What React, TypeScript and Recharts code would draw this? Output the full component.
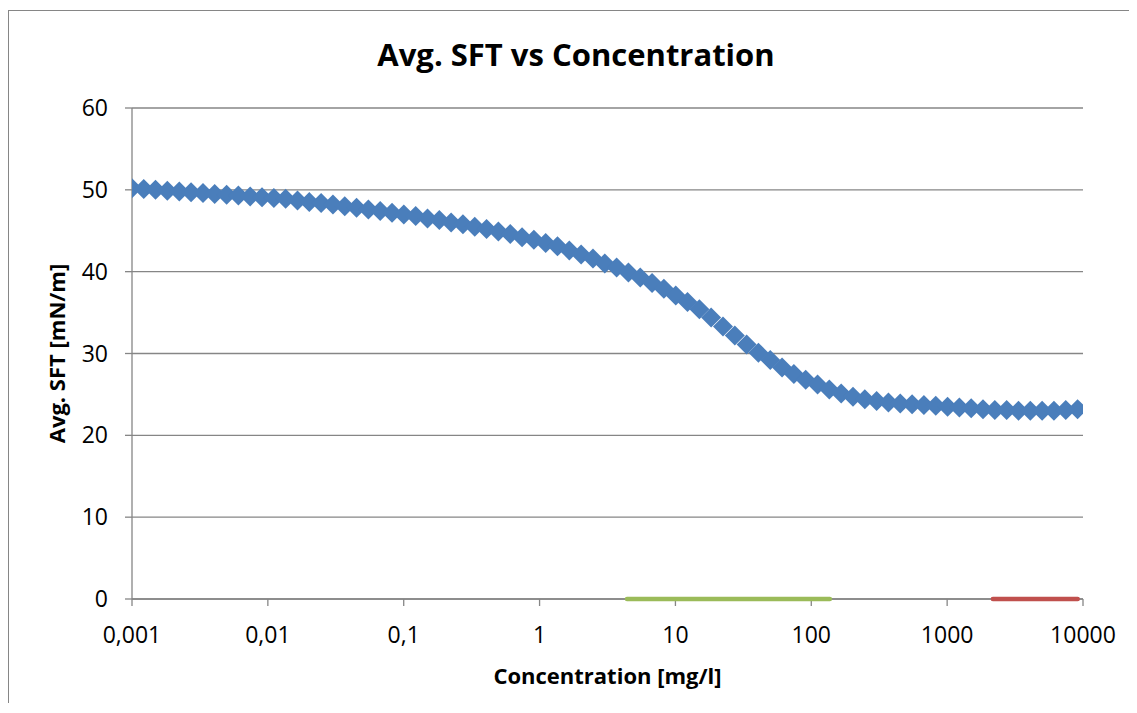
import { ScatterChart, Scatter, XAxis, YAxis, CartesianGrid } from 'recharts'

const concentration = [
  0.001, 0.00122, 0.00149, 0.00182, 0.00223, 0.00272, 0.00333, 0.00406, 0.00497, 0.00607,
  0.00741, 0.00906, 0.01107, 0.01352, 0.01652, 0.02018, 0.02466, 0.03013, 0.03681, 0.04498,
  0.05495, 0.06714, 0.08204, 0.1002, 0.1225, 0.1496, 0.1828, 0.2234, 0.2729, 0.3334,
  0.4074, 0.4977, 0.6081, 0.743, 0.9078, 1.109, 1.355, 1.656, 2.023, 2.472,
  3.02, 3.69, 4.508, 5.508, 6.73, 8.222, 10.05, 12.27, 15.0, 18.32,
  22.39, 27.35, 33.42, 40.83, 49.89, 60.95, 74.47, 90.99, 111.2, 135.8,
  166.0, 202.8, 247.7, 302.7, 369.8, 451.9, 552.1, 674.5, 824.1, 1007,
  1230, 1503, 1837, 2244, 2742, 3350, 4093, 5000, 6109, 7464,
  9120,
]
const avgSft = [
  50.2, 50.1, 50.0, 49.9, 49.8, 49.7, 49.6, 49.5, 49.4, 49.3,
  49.2, 49.1, 49.0, 48.9, 48.7, 48.5, 48.4, 48.2, 48.0, 47.8,
  47.6, 47.4, 47.2, 47.0, 46.8, 46.5, 46.3, 46.0, 45.8, 45.5,
  45.2, 44.9, 44.6, 44.2, 43.9, 43.5, 43.1, 42.6, 42.1, 41.6,
  41.0, 40.5, 39.9, 39.3, 38.6, 37.9, 37.1, 36.3, 35.4, 34.4,
  33.3, 32.2, 31.1, 30.1, 29.2, 28.3, 27.5, 26.8, 26.2, 25.6,
  25.1, 24.7, 24.4, 24.2, 24.0, 23.9, 23.8, 23.7, 23.6, 23.5,
  23.4, 23.3, 23.2, 23.1, 23.1, 23.0, 23.0, 23.0, 23.0, 23.1,
  23.2,
]
const greenRange = [4.4, 137]
const redRange = [2170, 9140]

const xTicks = [0.001, 0.01, 0.1, 1, 10, 100, 1000, 10000]
const yTicks = [0, 10, 20, 30, 40, 50, 60]

const sftPoints = concentration.map((x, i) => ({ x, y: avgSft[i] }))
const greenPoints = greenRange.map(x => ({ x, y: 0 }))
const redPoints = redRange.map(x => ({ x, y: 0 }))

const FONT = '"Open Sans", sans-serif'
const GREY = '#868686'

const Diamond = (props: any) => {
  const { cx, cy } = props
  const r = 10
  return <path d={`M${cx},${cy - r}L${cx + r},${cy}L${cx},${cy + r}L${cx - r},${cy}Z`} fill="#4A7EBB" />
}

const Nothing = () => <g />

export default function App() {
  return (
    <div style={{ position: 'relative', width: 1129, height: 695, overflow: 'hidden', fontFamily: FONT }}>
      <div style={{ position: 'absolute', top: 2, left: 0, width: 1129, height: 1, background: GREY }} />
      <div style={{ position: 'absolute', top: 2, left: 0, width: 1, height: 695, background: GREY }} />
      <div style={{ position: 'absolute', top: 25, left: 0, width: 1136, textAlign: 'center', fontSize: 31, fontWeight: 700, color: '#000' }}>
        Avg. SFT vs Concentration
      </div>
      <div style={{ position: 'absolute', top: 0, left: 0 }}>
        <ScatterChart width={1129} height={697} margin={{ top: 100, right: 54, bottom: 0, left: 24 }}>
          <CartesianGrid horizontal vertical={false} stroke={GREY} strokeWidth={1.3} />
          <XAxis
            type="number"
            dataKey="x"
            scale="log"
            domain={[0.001, 10000]}
            allowDataOverflow
            ticks={xTicks}
            interval={0}
            height={106}
            tickSize={7}
            tickMargin={21}
            stroke={GREY}
            strokeWidth={1.3}
            tick={{ fontFamily: FONT, fontSize: 23, fill: '#000' }}
            tickFormatter={(v: number) => String(v).replace('.', ',')}
            label={({ viewBox }: any) => (
              <text x={viewBox.x + viewBox.width / 2} y={viewBox.y + 85} textAnchor="middle"
                fontFamily={FONT} fontSize={22} fontWeight={700} fill="#000">
                Concentration [mg/l]
              </text>
            )}
          />
          <YAxis
            type="number"
            dataKey="y"
            domain={[0, 60]}
            ticks={yTicks}
            interval={0}
            width={100}
            tickSize={7}
            tickMargin={17}
            stroke={GREY}
            strokeWidth={1.3}
            tick={{ fontFamily: FONT, fontSize: 23, fill: '#000' }}
            label={({ viewBox }: any) => {
              const cx = viewBox.x + 25
              const cy = viewBox.y + viewBox.height / 2
              return (
                <text x={cx} y={cy} dy={8} transform={`rotate(-90 ${cx} ${cy})`} textAnchor="middle"
                  fontFamily={FONT} fontSize={22} fontWeight={700} fill="#000">
                  Avg. SFT [mN/m]
                </text>
              )
            }}
          />
          <Scatter data={sftPoints} shape={Diamond} isAnimationActive={false} />
          <Scatter data={greenPoints} shape={Nothing} line={{ stroke: '#9BBB59', strokeWidth: 4.5, strokeLinecap: 'round' }} isAnimationActive={false} />
          <Scatter data={redPoints} shape={Nothing} line={{ stroke: '#C0504D', strokeWidth: 4.5, strokeLinecap: 'round' }} isAnimationActive={false} />
        </ScatterChart>
      </div>
    </div>
  )
}
